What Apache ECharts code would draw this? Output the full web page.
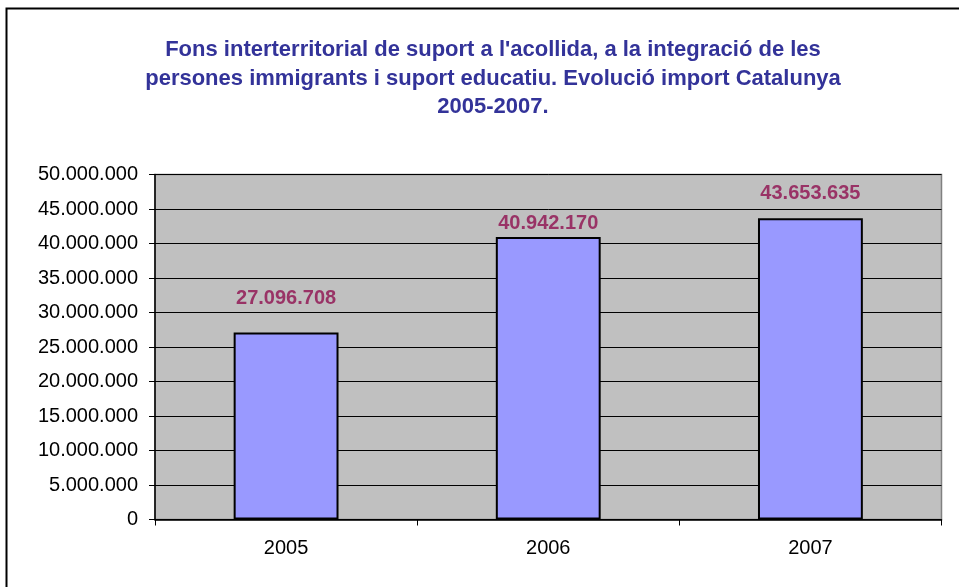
<!DOCTYPE html>
<html>
<head>
<meta charset="utf-8">
<script src="https://cdn.jsdelivr.net/npm/echarts@6/dist/echarts.min.js"></script>
<style>
  html, body { margin: 0; padding: 0; background: #fff; }
  #chart { width: 959px; height: 587px; }
</style>
</head>
<body>
<div id="chart"></div>
<script>
const years = ["2005", "2006", "2007"];
const imports = [27096708, 40942170, 43653635];
const yTicks = { min: 0, max: 50000000, interval: 5000000 };
const titleText =
  "Fons interterritorial de suport a l'acollida, a la integració de les\n" +
  "persones immigrants i suport educatiu. Evolució import Catalunya\n" +
  "2005-2007.";

// format with dots as thousands separator
const fmt = (v) => String(Math.round(v)).replace(/\B(?=(\d{3})+(?!\d))/g, ".");

const labelGap = [24, 4, 15];

const chart = echarts.init(document.getElementById("chart"));
const option = {
  animation: false,
  textStyle: { fontFamily: "Liberation Sans, Arial, sans-serif" },
  title: {
    text: titleText,
    left: 488,
    top: 31,
    textAlign: "center",
    textStyle: {
      color: "#333399",
      fontSize: 22,
      fontWeight: "bold",
      lineHeight: 28.5,
      fontFamily: "Liberation Sans, Arial, sans-serif",
    },
  },
  graphic: [
    {
      type: "rect",
      shape: { x: 6.5, y: 8.5, width: 1200, height: 1200 },
      style: { fill: null, stroke: "#000", lineWidth: 2 },
      silent: true,
    },
  ],
  grid: {
    left: 155,
    right: 17.5,
    top: 174.5,
    bottom: 67.5,
    show: true,
    backgroundColor: "#C0C0C0",
    borderColor: "#808080",
    borderWidth: 1.5,
  },
  xAxis: {
    type: "category",
    data: years,
    axisLine: { lineStyle: { color: "#000", width: 1.5 } },
    axisTick: { show: true, length: 6, lineStyle: { color: "#000" } },
    axisLabel: { color: "#000", fontSize: 20, margin: 19 },
  },
  yAxis: {
    type: "value",
    min: yTicks.min,
    max: yTicks.max,
    interval: yTicks.interval,
    axisLine: { show: true, lineStyle: { color: "#000", width: 1.5 } },
    axisTick: { show: true, length: 6, lineStyle: { color: "#000" } },
    axisLabel: { color: "#000", fontSize: 20, margin: 17, formatter: fmt },
    splitLine: { show: true, lineStyle: { color: "#000", width: 1 } },
  },
  series: [
    {
      type: "bar",
      barWidth: "40%",
      data: imports.map((v, i) => ({
        value: v,
        label: { distance: labelGap[i] },
      })),
      itemStyle: { color: "#9999FF", borderColor: "#000", borderWidth: 2 },
      label: {
        show: true,
        position: "top",
        color: "#993366",
        fontSize: 20,
        fontWeight: "bold",
        formatter: (p) => fmt(p.value),
      },
    },
  ],
};
chart.setOption(option);
</script>
</body>
</html>
